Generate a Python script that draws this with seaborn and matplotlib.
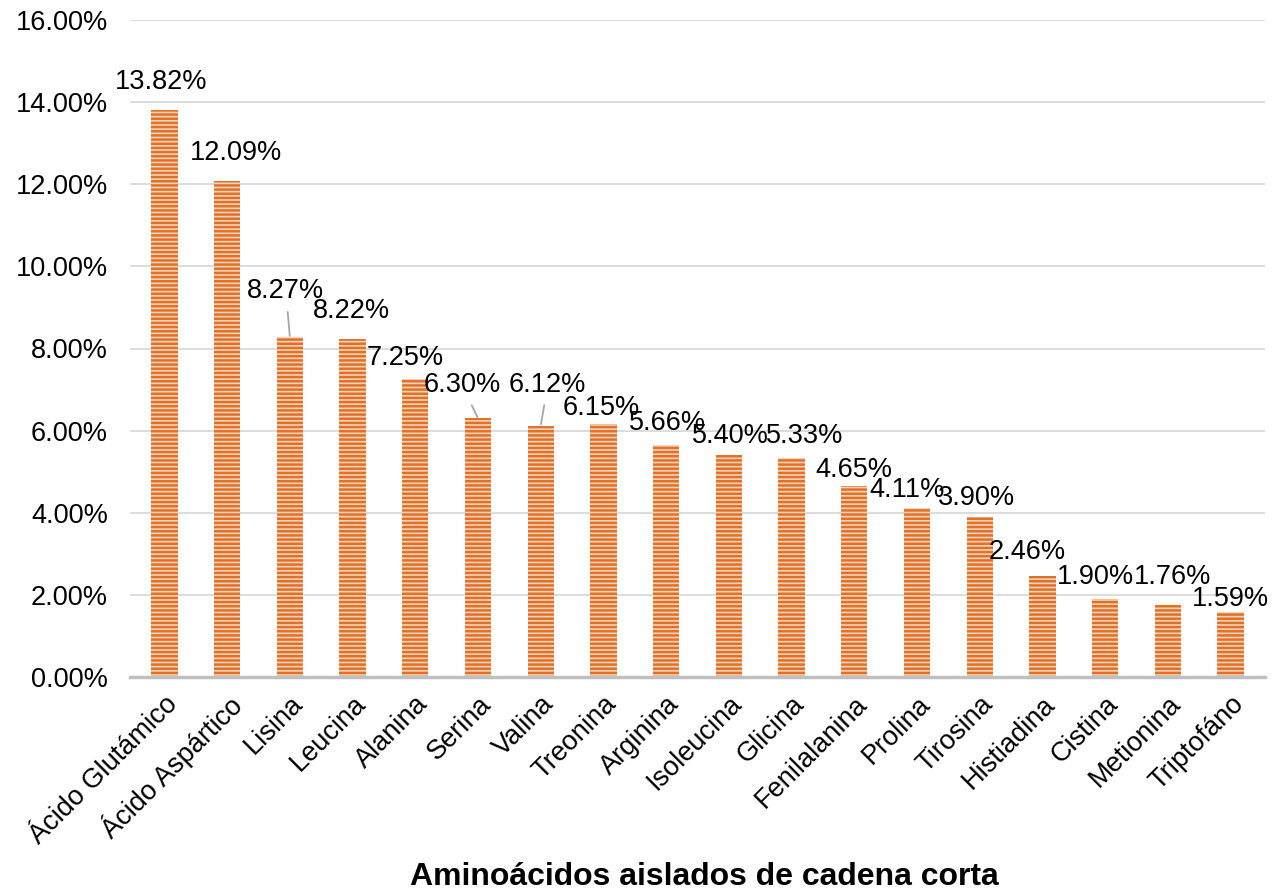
import matplotlib
matplotlib.use("Agg")
import matplotlib.pyplot as plt
import seaborn as sns
import numpy as np
from matplotlib.ticker import FuncFormatter

categories = ["Ácido Glutámico", "Ácido Aspártico", "Lisina", "Leucina", "Alanina",
              "Serina", "Valina", "Treonina", "Arginina", "Isoleucina", "Glicina",
              "Fenilalanina", "Prolina", "Tirosina", "Histiadina", "Cistina",
              "Metionina", "Triptofáno"]
values = [13.82, 12.09, 8.27, 8.22, 7.25, 6.30, 6.12, 6.15, 5.66, 5.40, 5.33,
          4.65, 4.11, 3.90, 2.46, 1.90, 1.76, 1.59]
value_labels = ["13.82%", "12.09%", "8.27%", "8.22%", "7.25%", "6.30%", "6.12%",
                "6.15%", "5.66%", "5.40%", "5.33%", "4.65%", "4.11%", "3.90%",
                "2.46%", "1.90%", "1.76%", "1.59%"]
y_ticks = [0, 2, 4, 6, 8, 10, 12, 14, 16]
x_title = "Aminoácidos aislados de cadena corta"

# label offsets in pixels (dx, dy) relative to bar top center
label_offsets = [(-3, 28), (9, 28), (-4, 46), (-1, 28), (-10, 21), (-16, 33),
                 (7, 41), (-2, 16), (1, 22), (2, 19), (13, 22), (0, 16),
                 (-10, 18), (-3, 19), (-15, 24), (-10, 22), (5, 28), (0, 13)]
leader = {2, 5, 6}

sns.set_theme(style="white")
plt.rcParams['font.family'] = ['Liberation Sans', 'DejaVu Sans']
plt.rcParams['hatch.linewidth'] = 1.8
plt.rcParams['hatch.color'] = '#E0702A'

FS = 19.5

fig = plt.figure(figsize=(12.88, 8.92), dpi=100)
ax = fig.add_axes([130/1288, 215/892, (1265-130)/1288, (677-20)/892])

sns.barplot(x=categories, y=values, ax=ax, color="#F6C9A6", width=0.42,
            saturation=1)
for p in ax.patches:
    p.set_hatch('----')
    p.set_edgecolor('#E0702A')
    p.set_linewidth(0)
    p.set_facecolor('#F8D2B4')

ax.set_ylim(0, 16)
ax.set_xlim(-0.55, len(categories) - 0.45)
ax.set_yticks(y_ticks)
ax.yaxis.set_major_formatter(FuncFormatter(lambda v, p: f"{v:.2f}%"))
ax.yaxis.grid(True, color="#D9D9D9", linewidth=1.3)
ax.set_axisbelow(True)
for s in ["top", "right", "left"]:
    ax.spines[s].set_visible(False)
ax.spines["bottom"].set_color("#BFBFBF")
ax.spines["bottom"].set_linewidth(2.5)
ax.spines["bottom"].set_zorder(5)
ax.tick_params(axis='y', labelsize=FS, length=0, pad=16, colors='black')
ax.tick_params(axis='x', labelsize=FS, length=0, pad=10, colors='black')
plt.setp(ax.get_xticklabels(), rotation=45, ha='right', rotation_mode='anchor')
ax.set_xlabel("")
ax.set_ylabel("")

for i, (v, lab, (dx, dy)) in enumerate(zip(values, value_labels, label_offsets)):
    if i in leader:
        ax.annotate(lab, xy=(i, v), xytext=(dx, dy), textcoords='offset pixels',
                    ha='center', va='center', fontsize=FS, color='black',
                    arrowprops=dict(arrowstyle='-', color='#A6A6A6', lw=1.3,
                                    shrinkA=3, shrinkB=1))
    else:
        ax.annotate(lab, xy=(i, v), xytext=(dx, dy), textcoords='offset pixels',
                    ha='center', va='center', fontsize=FS, color='black')

fig.text(704/1288, 1 - 877/892, x_title, ha='center', va='center',
         fontsize=23, fontweight='bold', color='black')

fig.savefig("out.png", dpi=100, facecolor='white')
